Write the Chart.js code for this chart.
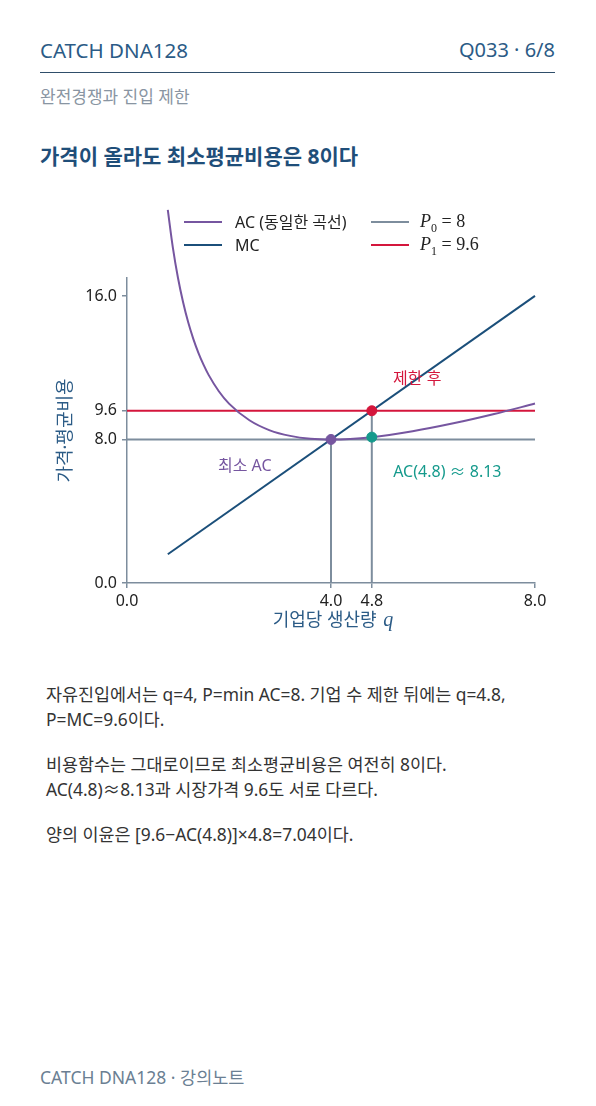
<!DOCTYPE html>
<html lang="ko">
<head>
<meta charset="utf-8">
<script src="https://cdn.jsdelivr.net/npm/chart.js@4"></script>
<style>
  html, body { margin: 0; padding: 0; background: #fff; }
  body { width: 596px; height: 1106px; position: relative; overflow: hidden;
         font-family: "Noto Sans", "Noto Sans CJK KR", sans-serif; }
  .abs { position: absolute; white-space: nowrap; }
  #brand { left: 40px; top: 36px; font-size: 20.5px; color: #2b5b86; line-height: 28px; }
  #page { right: 41px; top: 36px; font-size: 20px; color: #2b5b86; line-height: 28px; }
  #rule { left: 40px; top: 72px; width: 515px; height: 0; border-top: 1.5px solid #2f4e6a; }
  #sub { left: 40px; top: 85px; font-size: 17px; color: #8995a2; line-height: 24px; }
  #title { left: 40px; top: 141px; font-size: 21px; font-weight: bold; color: #1f4e79; line-height: 30px; }
  #chartBox { left: 0; top: 195px; width: 596px; height: 460px; }
  .leg { position: absolute; font-size: 16px; color: #222; line-height: 20px; }
  .leg i { position: absolute; width: 38px; height: 0; border-top: 2.5px solid; }
  .math { font-family: "Liberation Serif", "DejaVu Serif", serif; font-size: 18px; }
  .math em { font-style: italic; }
  .math sub { font-size: 12px; }
  #body { left: 46px; top: 682px; font-size: 17.4px; color: #333; line-height: 25px; }
  #body p { margin: 0 0 20px 0; }
  #foot { left: 40px; top: 1065px; font-size: 17.5px; color: #6b7f93; line-height: 24px; }
</style>
</head>
<body>
<div class="abs" id="brand">CATCH DNA128</div>
<div class="abs" id="page">Q033 · 6/8</div>
<div class="abs" id="rule"></div>
<div class="abs" id="sub">완전경쟁과 진입 제한</div>
<div class="abs" id="title">가격이 올라도 최소평균비용은 8이다</div>

<div class="abs" id="chartBox"><canvas id="myChart" width="596" height="460"></canvas></div>

<!-- legend laid over the chart (two columns) -->
<div class="leg" style="left:184px;top:212px;"><i style="left:0;top:9px;border-color:#7656a0"></i><span style="margin-left:51px">AC (동일한 곡선)</span></div>
<div class="leg" style="left:184px;top:235px;"><i style="left:0;top:9px;border-color:#1b4f7a"></i><span style="margin-left:51px">MC</span></div>
<div class="leg" style="left:371px;top:211px;"><i style="left:0;top:10px;border-color:#7d8d9d"></i><span class="math" style="margin-left:49px"><em>P</em><sub>0</sub> = 8</span></div>
<div class="leg" style="left:371px;top:234px;"><i style="left:0;top:10px;border-color:#d4163c"></i><span class="math" style="margin-left:49px"><em>P</em><sub>1</sub> = 9.6</span></div>

<div class="abs" id="body">
  <p>자유진입에서는 q=4, P=min AC=8. 기업 수 제한 뒤에는 q=4.8,<br>P=MC=9.6이다.</p>
  <p>비용함수는 그대로이므로 최소평균비용은 여전히 8이다.<br>AC(4.8)≈8.13과 시장가격 9.6도 서로 다르다.</p>
  <p>양의 이윤은 [9.6−AC(4.8)]×4.8=7.04이다.</p>
</div>
<div class="abs" id="foot">CATCH DNA128 · 강의노트</div>

<script>
// values
const acQ = [0.8, 0.9, 1.0, 1.1, 1.2, 1.3, 1.4, 1.5, 1.6, 1.8, 2.0, 2.4, 2.8, 3.2, 3.6, 4.0, 4.8, 5.6, 6.4, 7.2, 8.0];
const acVal = [20.8, 18.68, 17.0, 15.65, 14.53, 13.61, 12.83, 12.17, 11.6, 10.69, 10.0, 9.07, 8.51, 8.2, 8.04, 8.0, 8.13, 8.46, 8.9, 9.42, 10.0];
const mcQ = [0.8, 8.0];
const mcVal = [1.6, 16.0];
const p0 = 8;
const p1 = 9.6;
const qFree = 4;      // 자유진입
const qLimit = 4.8;   // 제한 후
const acLimit = 8.13;
const xTicks = [0, 4, 4.8, 8];
const yTicks = [0, 8, 9.6, 16];
const xMax = 8, yMax = 17;

const purple = "#7656a0", navy = "#1b4f7a", grey = "#7d8d9d", red = "#d4163c", teal = "#159a8c";
const fontFam = "'Noto Sans', 'Noto Sans CJK KR', sans-serif";
Chart.defaults.font.family = fontFam;

const pts = (xs, ys) => xs.map((x, i) => ({ x: x, y: ys[i] }));
const line = (data, color, order) => ({
  data: data, borderColor: color, backgroundColor: color, borderWidth: 2,
  pointRadius: 0, showLine: true, clip: false, order: order
});
const dot = (x, y, color) => ({
  data: [{ x: x, y: y }], backgroundColor: color, borderColor: color,
  pointRadius: 5, pointHoverRadius: 5, showLine: false, order: 0
});

// text labels and axis titles
const notes = {
  id: "notes",
  afterDatasetsDraw(chart) {
    const c = chart.ctx, xs = chart.scales.x, ys = chart.scales.y;
    c.save();
    c.font = "16px " + fontFam;
    c.textBaseline = "middle";
    c.textAlign = "center";
    c.fillStyle = red;
    c.fillText("제한 후", xs.getPixelForValue(5.69), ys.getPixelForValue(11.32));
    c.fillStyle = purple;
    c.fillText("최소 AC", xs.getPixelForValue(2.31), ys.getPixelForValue(6.47));
    c.textAlign = "left";
    c.fillStyle = teal;
    c.fillText("AC(4.8) ≈ 8.13", xs.getPixelForValue(5.22), ys.getPixelForValue(6.19));

    // x title with italic q
    const a = chart.chartArea;
    const t1 = "기업당 생산량 ";
    c.font = "18px " + fontFam;
    const w1 = c.measureText(t1).width;
    c.font = "italic 20px 'Liberation Serif', serif";
    const w2 = c.measureText("q").width;
    let x0 = (a.left + a.right) / 2 - (w1 + w2) / 2 + 1;
    const yT = 426;
    c.fillStyle = "#2b5b86";
    c.font = "18px " + fontFam;
    c.fillText(t1, x0, yT);
    c.font = "italic 20px 'Liberation Serif', serif";
    c.fillText("q", x0 + w1 + 2, yT);

    // y title
    c.translate(66, (a.top + a.bottom) / 2);
    c.rotate(-Math.PI / 2);
    c.textAlign = "center";
    c.font = "18px " + fontFam;
    c.fillText("가격·평균비용", 0, 0);
    c.restore();
  }
};

const ctx = document.getElementById("myChart").getContext("2d");
new Chart(ctx, {
  type: "scatter",
  data: {
    datasets: [
      dot(qFree, p0, purple),
      dot(qLimit, p1, red),
      dot(qLimit, acLimit, teal),
      line(pts([qFree, qFree], [0, p0]), grey, 5),
      line(pts([qLimit, qLimit], [0, p1]), grey, 5),
      line(pts([0, xMax], [p0, p0]), grey, 4),
      line(pts([0, xMax], [p1, p1]), red, 3),
      line(pts(mcQ, mcVal), navy, 2),
      Object.assign(line(pts(acQ, acVal), purple, 1), { tension: 0.4, cubicInterpolationMode: "monotone" })
    ]
  },
  options: {
    responsive: false,
    animation: false,
    layout: { padding: { top: 83, left: 0, right: 61, bottom: 0 } },
    plugins: { legend: { display: false }, tooltip: { enabled: false } },
    scales: {
      x: {
        type: "linear", min: 0, max: xMax,
        afterFit: s => { s.height = 72; },
        afterBuildTicks: s => { s.ticks = xTicks.map(v => ({ value: v })); },
        ticks: { autoSkip: false, maxRotation: 0, padding: 4, color: "#222", font: { size: 16 },
                 callback: v => Number(v).toFixed(1) },
        grid: { drawOnChartArea: false, drawTicks: true, tickLength: 5, color: grey, lineWidth: 1.5 },
        border: { color: grey, width: 1.5 }
      },
      y: {
        type: "linear", min: 0, max: yMax,
        afterFit: s => { s.width = 127; },
        afterBuildTicks: s => { s.ticks = yTicks.map(v => ({ value: v })); },
        ticks: { autoSkip: false, padding: 5, color: "#222", font: { size: 16 },
                 callback: v => Number(v).toFixed(1) },
        grid: { drawOnChartArea: false, drawTicks: true, tickLength: 5, color: grey, lineWidth: 1.5 },
        border: { color: grey, width: 1.5 }
      }
    }
  },
  plugins: [notes]
});
</script>
</body>
</html>
